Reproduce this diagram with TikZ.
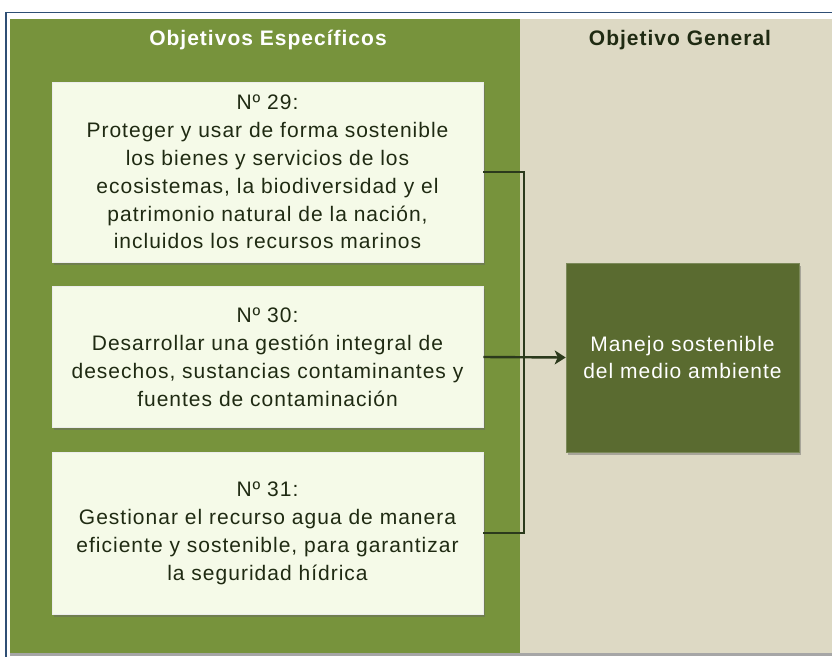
\documentclass[tikz,border=0pt]{standalone}
\usepackage{fontspec}
\setmainfont{Liberation Sans}
\newfontfamily\spacedfont[LetterSpace=4.8]{Liberation Sans}
\usetikzlibrary{shadows,arrows.meta}
\definecolor{frameblue}{HTML}{2F4F75}
\definecolor{panelgreen}{HTML}{77933C}
\definecolor{panelbeige}{HTML}{DDD9C4}
\definecolor{boxfill}{HTML}{F5FAE8}
\definecolor{darkbox}{HTML}{5A6B30}
\definecolor{textdark}{HTML}{1F2A12}
\definecolor{conncol}{HTML}{2B3A1C}
\tikzset{
  objbox/.style={draw=white!85!gray, line width=0.6pt, fill=boxfill, text=textdark,
    align=center, inner sep=0pt, font=\spacedfont\fontsize{21}{27.9}\selectfont,
    drop shadow={shadow xshift=1.5pt, shadow yshift=-2.5pt, opacity=0.45, fill=black!60}},
  genbox/.style={draw=darkbox!80!white, line width=0.6pt, fill=darkbox, text=white,
    align=center, inner sep=0pt, font=\spacedfont\fontsize{21}{27.9}\selectfont,
    drop shadow={shadow xshift=1.5pt, shadow yshift=-2.5pt, opacity=0.45, fill=black!60}},
  header/.style={font=\spacedfont\fontsize{21}{24}\selectfont\bfseries, inner sep=0pt},
  conn/.style={draw=conncol, line width=2.4pt},
}
\begin{document}
\begin{tikzpicture}[x=1pt,y=-1pt]
\useasboundingbox (0,0) rectangle (832,656);
% outer frame
\begin{scope}
\clip (0,0) rectangle (832,656);
\fill[white] (0,0) rectangle (832,656);
\draw[frameblue, line width=1.6pt] (6,700) -- (6,12.5) -- (900,12.5);
\end{scope}
% panels
\fill[black!35] (10,653) rectangle (832,656);
\fill[panelgreen] (10,19) rectangle (520,653);
\fill[panelbeige] (520,19) rectangle (832,653);
\node[header, text=white] (hleft) at (268,40) {Objetivos Específicos};
\node[header, text=textdark] (hright) at (680,40) {Objetivo General};
% boxes
\node[objbox, minimum width=431pt, minimum height=180pt] (b1) at (267.5,172)
  {Nº 29:\\Proteger y usar de forma sostenible\\los bienes y servicios de los\\ecosistemas, la biodiversidad y el\\patrimonio natural de la nación,\\incluidos los recursos marinos};
\node[objbox, minimum width=431pt, minimum height=141pt] (b2) at (267.5,357)
  {Nº 30:\\Desarrollar una gestión integral de\\desechos, sustancias contaminantes y\\fuentes de contaminación};
\node[objbox, minimum width=431pt, minimum height=162pt] (b3) at (267.5,533)
  {Nº 31:\\Gestionar el recurso agua de manera\\eficiente y sostenible, para garantizar\\la seguridad hídrica};
\node[genbox, minimum width=233pt, minimum height=189pt] (g) at (682.5,357.5)
  {Manejo sostenible\\del medio ambiente};
% connectors
\coordinate (j1) at (524,172);
\coordinate (j3) at (524,533);
\draw[conn] (b1.east) -- (j1) -- (j3) -- (b3.east);
\draw[conn, -{Stealth[length=11pt,width=14pt,inset=3pt]}] (b2.east) -- (g.west);
\end{tikzpicture}
\end{document}
